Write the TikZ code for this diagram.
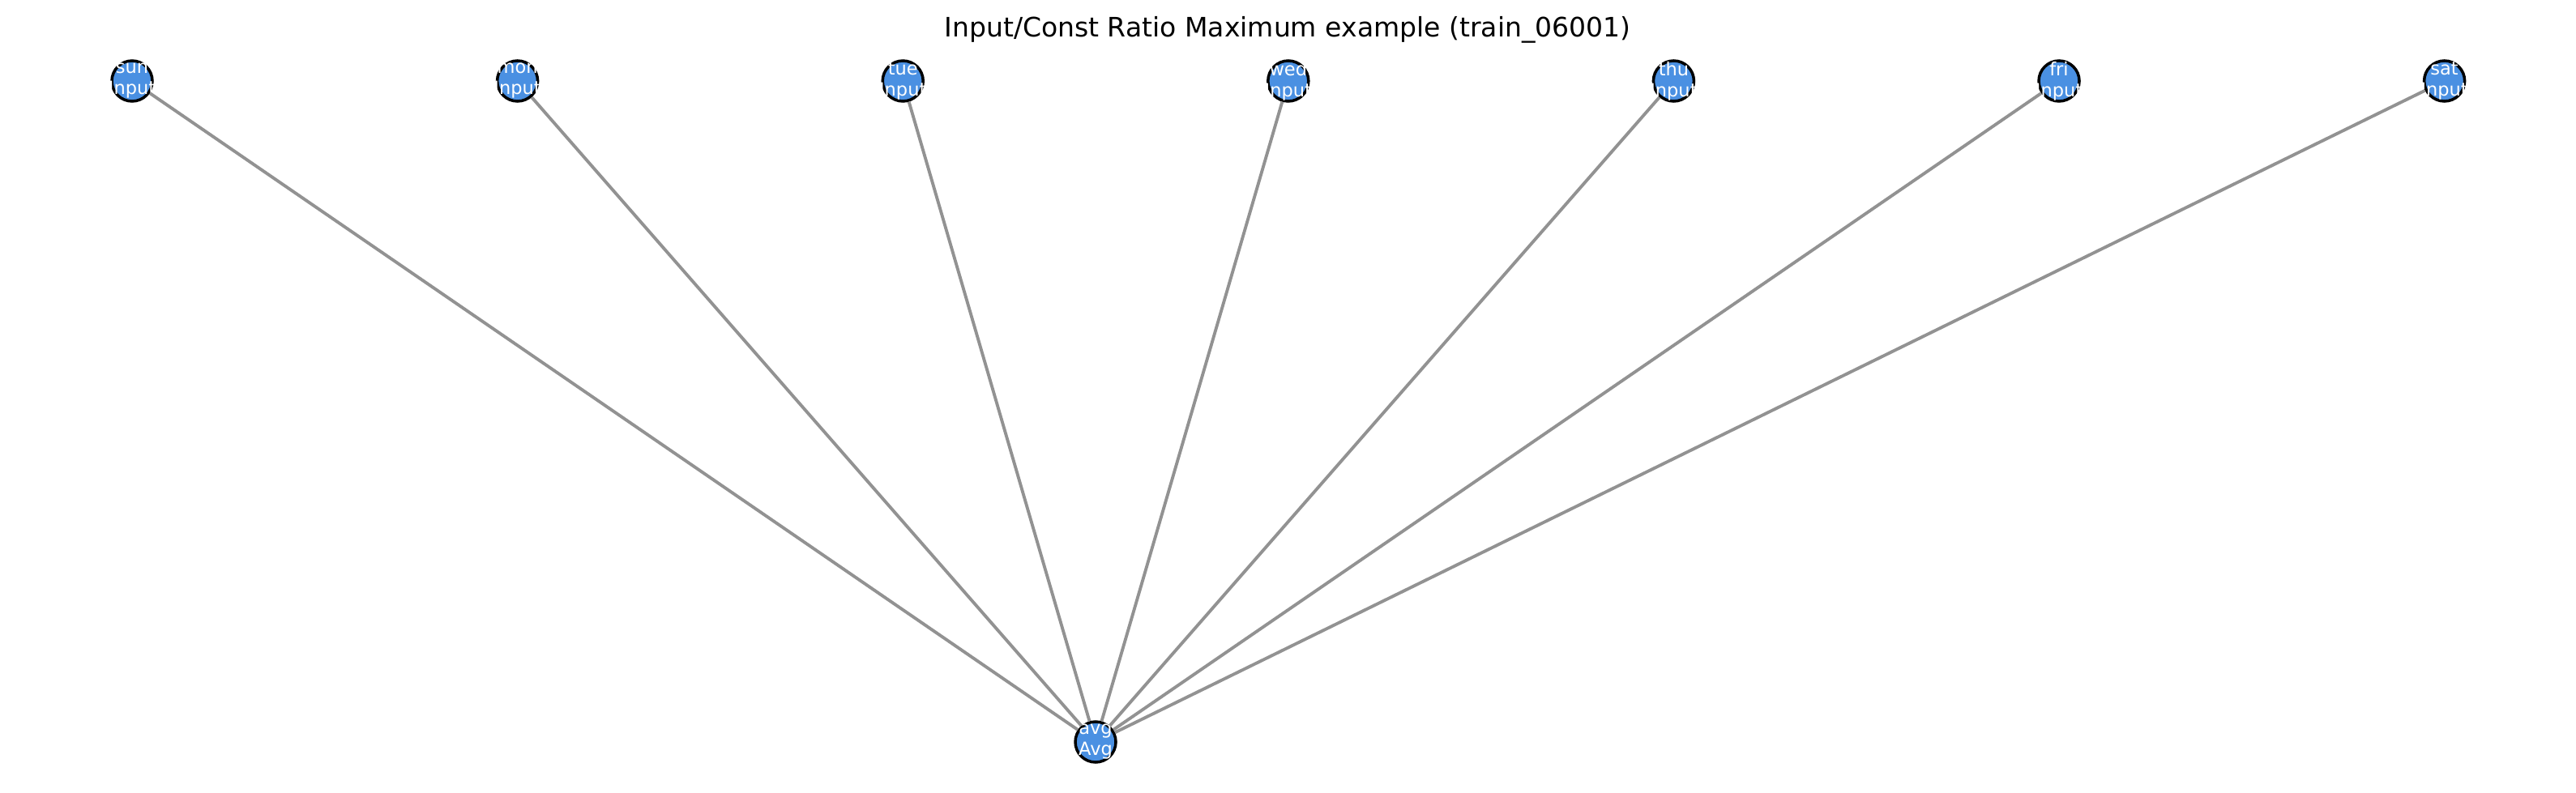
\documentclass[tikz,border=0pt]{standalone}
\usepackage{fontspec}
\setmainfont{DejaVu Sans}
\usepackage{tikz}
\definecolor{nodeblue}{HTML}{4A90E2}
\definecolor{edgegray}{RGB}{146,146,146}
\tikzset{
  daynode/.style={circle,draw=black,line width=1pt,fill=nodeblue,minimum size=0.5cm,inner sep=0pt},
  daytext/.style={text=white,align=center,font=\fontsize{6.4}{7.4}\selectfont,inner sep=0pt},
  link/.style={draw=edgegray,line width=1.1pt}
}

\begin{document}
\begin{tikzpicture}
\useasboundingbox (0,0) rectangle (31.79,9.78);
\node[font=\fontsize{9.4}{11}\selectfont,anchor=base,inner sep=0pt] (title) at (15.89,9.32) {Input/Const Ratio Maximum example (train\_06001)};
\node[daynode,label={[daytext]center:avg\\Avg}] (avg) at (13.52,0.62) {};
\foreach \day [count=\i from 0] in {sun,mon,tue,wed,thu,fri,sat} {
  \node[daynode,label={[daytext]center:\day\\Input}] (\day) at (1.63+4.756*\i,8.78) {};
  \draw[link] (\day) -- (avg);
}
\end{tikzpicture}
\end{document}
